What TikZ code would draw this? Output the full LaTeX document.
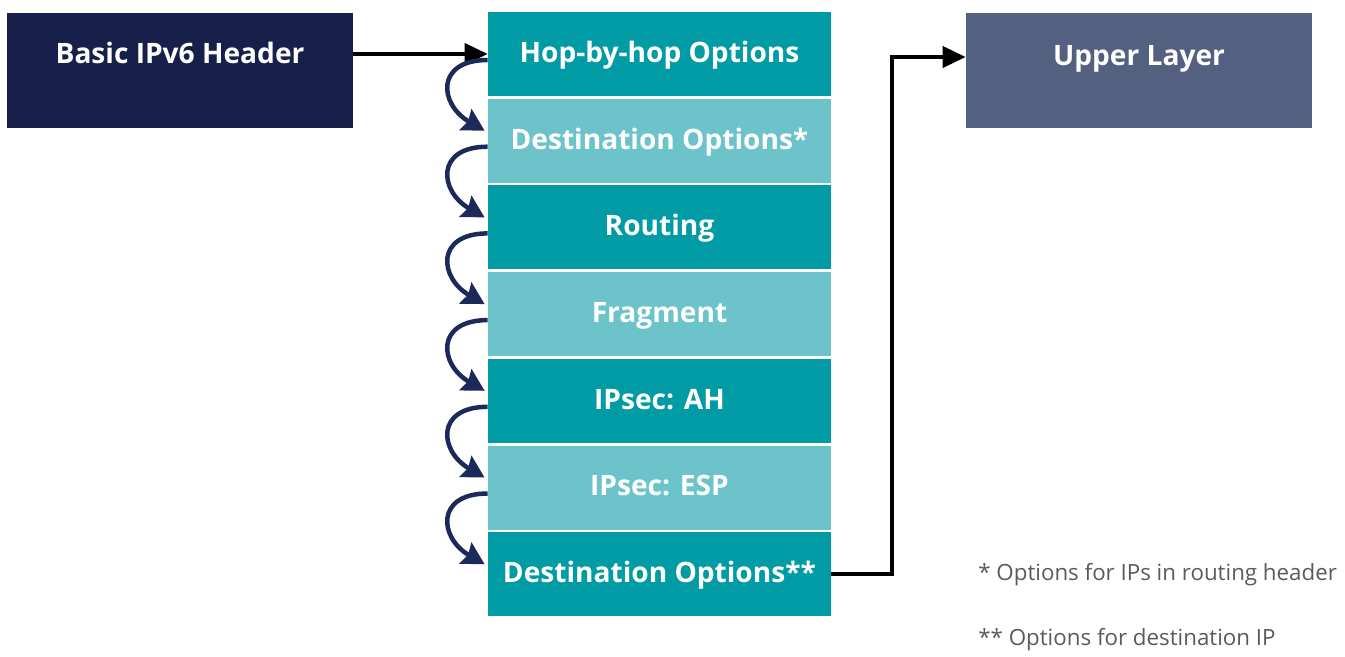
\documentclass[tikz,border=0pt]{standalone}
\usepackage{fontspec}
\setmainfont{Open Sans}
\usepackage{xcolor}
\usepackage{tikz}
\usetikzlibrary{arrows.meta}
\usetikzlibrary{positioning}
\definecolor{navy}{HTML}{16204A}
\definecolor{tealdark}{HTML}{009BA4}
\definecolor{teallight}{HTML}{6CC4CA}
\definecolor{slate}{HTML}{546080}
\definecolor{arcblue}{HTML}{1B2A5A}
\definecolor{notegray}{HTML}{5A5A5A}

\begin{document}
\begin{tikzpicture}[>={Triangle[length=0.46cm, width=0.42cm]},
  header/.style={rectangle, fill=navy, text=white, minimum width=6.92cm, inner ysep=0pt, text height=1.0cm, text depth=1.3cm, font=\fontsize{16}{19}\selectfont\bfseries},
  upperbox/.style={rectangle, fill=slate, text=white, minimum width=6.92cm, inner ysep=0pt, text height=1.04cm, text depth=1.26cm, font=\fontsize{16}{19}\selectfont\bfseries},
  darkrow/.style={rectangle, fill=tealdark, text=white, minimum width=6.86cm, minimum height=1.68cm, text height=2ex, text depth=.2ex, font=\fontsize{16}{19}\selectfont\bfseries},
  lightrow/.style={rectangle, fill=teallight, text=white, minimum width=6.86cm, minimum height=1.68cm, text height=2ex, text depth=.2ex, font=\fontsize{16}{19}\selectfont\bfseries},
  remark/.style={anchor=base west, inner sep=0pt, text=notegray, font=\fontsize{12.7}{15}\selectfont},
  flow/.style={->, line width=0.08cm},
  swing/.style={-{Stealth[length=0.44cm, width=0.48cm, inset=0.06cm]}, draw=arcblue, line width=0.09cm}]

  \useasboundingbox (0,0) rectangle (26.9,13.12);

  \node[header] (basic) at (3.60,11.71) {Basic IPv6 Header};
  \node[upperbox] (upper) at (22.78,11.71) {Upper Layer};

  \node[darkrow] (hop) at (13.19,12.04) {Hop-by-hop Options};
  \node[lightrow, below=0.04cm of hop] (dstopt) {Destination Options*};
  \node[darkrow, below=0.04cm of dstopt] (routing) {Routing};
  \node[lightrow, below=0.04cm of routing] (fragment) {Fragment};
  \node[darkrow, below=0.04cm of fragment] (ah) {IPsec: AH};
  \node[lightrow, below=0.04cm of ah] (esp) {IPsec: ESP};
  \node[darkrow, below=0.04cm of esp] (dstfinal) {Destination Options**};

  \node[remark] (notea) at (19.56,1.52) {* Options for IPs in routing header};
  \node[remark] (noteb) at (19.56,0.22) {** Options for destination IP};

  \draw[flow] (basic.east |- hop.west) -- (hop.west);
  \draw[flow] (dstfinal.east) -- ++(1.22,0) |- ([yshift=0.27cm]upper.west);

  \draw[swing] ([yshift=-0.12cm]hop.west) to[out=180, in=150, looseness=1.9] ([xshift=-0.06cm, yshift=0.2cm]dstopt.west);
  \draw[swing] ([yshift=-0.12cm]dstopt.west) to[out=180, in=150, looseness=1.9] ([xshift=-0.06cm, yshift=0.2cm]routing.west);
  \draw[swing] ([yshift=-0.12cm]routing.west) to[out=180, in=150, looseness=1.9] ([xshift=-0.06cm, yshift=0.2cm]fragment.west);
  \draw[swing] ([yshift=-0.12cm]fragment.west) to[out=180, in=150, looseness=1.9] ([xshift=-0.06cm, yshift=0.2cm]ah.west);
  \draw[swing] ([yshift=-0.12cm]ah.west) to[out=180, in=150, looseness=1.9] ([xshift=-0.06cm, yshift=0.2cm]esp.west);
  \draw[swing] ([yshift=-0.12cm]esp.west) to[out=180, in=150, looseness=1.9] ([xshift=-0.06cm, yshift=0.2cm]dstfinal.west);
\end{tikzpicture}
\end{document}
